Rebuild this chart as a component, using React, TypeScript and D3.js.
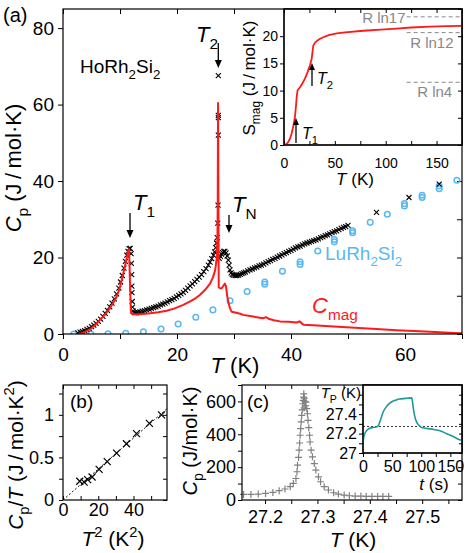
import React, { useEffect, useRef } from 'react';
import * as d3 from 'd3';

const FONT = '"Liberation Sans", Arial, Helvetica, sans-serif';
const RED = '#ff1a1a';
const BLUE = '#5ab9f0';
const TEAL = '#1e9a98';
const GREY = '#808080';

// (a) HoRh2Si2 specific heat
const hoT = [2.6, 3.0, 3.4, 3.8, 4.2, 4.6, 5.0, 5.4, 5.8, 6.2, 6.6, 7.0, 7.4, 7.8, 8.2, 8.6, 9.0, 9.4, 9.8,
  10.1, 10.4, 10.7, 10.95, 11.2, 11.4, 11.6, 11.8,
  11.95, 12.0, 12.05, 12.08, 12.1, 12.15, 12.2, 12.3, 12.5, 12.8,
  13.1, 13.5, 13.9, 14.3, 14.7, 15.1, 15.5, 15.9, 16.3, 16.7, 17.1, 17.5, 17.9, 18.3, 18.7, 19.1, 19.5, 19.9,
  20.3, 20.7, 21.1, 21.5, 21.9, 22.3, 22.7, 23.1, 23.5, 23.9, 24.3, 24.7, 25.1, 25.5,
  25.8, 26.1, 26.4, 26.6, 26.8, 26.95, 27.05, 27.15, 27.2,
  27.25, 27.25, 27.25, 27.25,
  27.4, 27.6, 27.8, 28.0, 28.2, 28.4, 28.6, 28.8, 29.0, 29.15, 29.3, 29.5, 29.7, 29.9, 30.2, 30.5, 30.8, 31.1, 31.4, 31.7,
  32.0, 32.4, 32.8, 33.2, 33.6, 34.0, 34.4, 34.8, 35.2, 35.6, 36.0, 36.4, 36.8, 37.2, 37.6, 38.0, 38.4, 38.8, 39.2, 39.6,
  40.0, 40.4, 40.8, 41.2, 41.6, 42.0, 42.4, 42.8, 43.2, 43.6, 44.0, 44.4, 44.8, 45.2, 45.6, 46.0, 46.4, 46.8, 47.2, 47.6,
  48.0, 48.4, 48.8, 49.2, 49.6, 50.0,
  55.0, 60.7, 66.0];
const hoCp = [0.3, 0.5, 0.7, 0.9, 1.2, 1.5, 1.9, 2.3, 2.8, 3.3, 3.9, 4.6, 5.4, 6.2, 7.1, 8.1, 9.2, 10.5, 12.0,
  13.6, 15.3, 17.2, 19.0, 20.6, 21.6, 22.3, 22.4,
  21.0, 18.5, 15.5, 12.5, 10.8, 8.5, 7.0, 6.0, 5.6, 5.6,
  5.7, 5.8, 6.0, 6.1, 6.3, 6.5, 6.7, 6.9, 7.1, 7.3, 7.6, 7.8, 8.1, 8.4, 8.7, 9.0, 9.3, 9.7,
  10.1, 10.5, 10.9, 11.4, 12.0, 12.6, 13.1, 13.7, 14.3, 14.9, 15.5, 16.3, 17.1, 18.0,
  18.8, 19.7, 20.6, 21.5, 22.6, 23.8, 25.2, 29.0, 33.7,
  52.0, 56.6, 57.2, 67.6,
  19.8, 20.3, 20.9, 21.3, 21.6, 21.6, 21.2, 20.4, 19.3, 18.0, 16.8, 16.0, 15.6, 15.4, 15.3, 15.3, 15.4, 15.6, 15.8, 16.0,
  16.2, 16.5, 16.8, 17.0, 17.3, 17.5, 17.8, 18.0, 18.3, 18.6, 18.9, 19.2, 19.5, 19.8, 20.1, 20.4, 20.7, 21.0, 21.3, 21.6,
  21.9, 22.2, 22.5, 22.8, 23.0, 23.3, 23.6, 23.8, 24.0, 24.2, 24.4, 24.6, 24.9, 25.2, 25.4, 25.7, 25.9, 26.2, 26.5, 26.8,
  27.0, 27.3, 27.6, 27.9, 28.1, 28.4,
  31.8, 35.7, 39.2];

// (a) LuRh2Si2 reference
const luT = [1.9, 4.9, 7.9, 11.0, 14.1, 17.2, 20.2, 23.3, 26.3, 29.3, 32.3, 35.4, 35.4, 38.5, 41.6, 41.6, 44.7,
  47.6, 47.6, 50.8, 50.8, 53.9, 56.9, 59.9, 59.9, 63.0, 63.0, 66.0, 66.0, 69.1];
const luCp = [0.0, 0.0, 0.05, 0.2, 0.6, 1.3, 2.6, 4.4, 6.3, 8.7, 11.1, 13.6, 13.0, 16.4, 18.9, 18.2, 21.7,
  24.7, 24.1, 27.0, 26.5, 29.2, 31.3, 34.1, 33.5, 36.3, 35.7, 38.7, 38.0, 40.2];

// (a) magnetic contribution
const cmagT = [2.7, 3.5, 4.7, 5.6, 6.5, 7.4, 8.2, 8.8, 9.4, 9.9, 10.3, 10.6, 10.9, 11.2, 11.46, 11.6, 11.75, 11.92,
  12.3, 13.0, 14.0, 15.3, 16.7, 18.2, 19.6, 21.1, 22.4, 23.3, 24.0, 24.9, 25.8, 26.3, 26.7, 27.0, 27.1, 27.15,
  27.2, 27.32, 27.5, 27.8, 28.1, 28.4, 28.6, 28.8, 29.0, 29.3, 29.6, 30.2, 31.1, 31.6, 32.8, 34.0, 35.1, 35.6,
  36.2, 37.0, 38.1, 39.5, 41.0, 41.5, 42.2, 43.9, 46.8, 49.0, 52.7, 55.0, 58.5, 61.5, 64.4, 67.0, 69.6, 70.0];
const cmagCp = [0.0, 0.3, 1.2, 2.3, 3.7, 5.1, 6.7, 8.1, 9.7, 11.8, 14.1, 16.0, 18.0, 20.0, 22.0, 22.2, 13.5, 5.6,
  5.2, 5.1, 5.2, 5.4, 5.7, 6.1, 6.7, 7.6, 8.6, 9.4, 10.2, 11.5, 13.2, 14.8, 16.7, 20.2, 26.0, 35.0,
  60.4, 12.3, 12.0, 11.9, 12.5, 13.2, 12.5, 10.0, 8.4, 6.7, 5.8, 5.6, 5.3, 5.0, 4.7, 4.4, 4.1, 4.4,
  3.9, 3.6, 3.3, 3.2, 3.0, 3.3, 2.4, 2.3, 2.0, 1.8, 1.5, 1.3, 1.0, 0.8, 0.6, 0.4, 0.2, 0.2];

// (a) inset: magnetic entropy
const smagT = [0, 2, 4.3, 6, 7.5, 9, 10.8, 11.8, 12.5, 13.4, 15.7, 18, 20.6, 23, 25.6, 27.2, 28.2, 28.8, 30.5, 32.1,
  35, 38.6, 44, 51.8, 60, 78, 95, 110.8, 125, 143.6, 160, 175];
const smagS = [0, 0.1, 0.6, 1.2, 2.1, 3.3, 5.2, 7.2, 8.9, 10.1, 10.6, 11.3, 12.2, 13.3, 14.7, 15.8, 17.4, 18.3, 18.8, 19.1,
  19.5, 19.8, 20.2, 20.5, 20.7, 21.0, 21.2, 21.4, 21.6, 21.75, 21.85, 21.9];
const entropyLabels = ['R ln17', 'R ln12', 'R ln4'];
const entropyLevels = [23.56, 20.66, 11.53];

// (b) low-temperature Cp/T vs T^2
const lowT2 = [9.5, 12.0, 14.0, 16.5, 20.5, 25.1, 30.4, 36.0, 41.7, 49.0, 55.9];
const lowCpT = [0.22, 0.21, 0.24, 0.27, 0.36, 0.45, 0.55, 0.66, 0.78, 0.90, 1.0];
const fitT2 = [0, 59];
const fitCpT = [0, 1.073];

// (c) peak at T2
const peakT = [27.159, 27.173, 27.187, 27.201, 27.215, 27.227, 27.238, 27.248, 27.254, 27.259,
  27.261, 27.262, 27.264, 27.265, 27.266, 27.267, 27.268, 27.269, 27.270, 27.271,
  27.272, 27.273, 27.2735, 27.274, 27.275, 27.276, 27.277, 27.2745, 27.278, 27.2796,
  27.281, 27.282, 27.2835, 27.285, 27.286, 27.288, 27.2905, 27.294, 27.297, 27.302,
  27.306, 27.313, 27.321, 27.331, 27.340, 27.351, 27.361, 27.372, 27.383, 27.393,
  27.404, 27.415, 27.425, 27.436];
const peakCp = [34, 34, 36, 40, 46, 57, 67, 81, 101, 131,
  172, 212, 259, 303, 347, 394, 434, 475, 515, 549,
  586, 606, 626, 646, 620, 600, 575, 560, 596, 556,
  525, 485, 440, 394, 353, 303, 263, 222, 182, 141,
  111, 81, 61, 44, 36, 30, 26, 24, 24, 22,
  22, 22, 22, 22];

// (c) inset: platform temperature during a heat pulse
const pulseTime = [0, 2, 5, 9, 15, 20, 24, 27, 30, 35, 40, 46, 52, 57.6, 63, 69, 76, 83.5, 85, 86,
  89, 92, 94, 97, 100, 107, 115, 123, 132, 138, 143, 149, 155, 161, 166, 170];
const pulseTp = [27.12, 27.18, 27.22, 27.246, 27.26, 27.265, 27.27, 27.29, 27.34, 27.427,
  27.475, 27.513, 27.535, 27.547, 27.555, 27.56, 27.563, 27.567, 27.53, 27.478,
  27.375, 27.32, 27.30, 27.28, 27.265, 27.255, 27.248, 27.24, 27.23, 27.215,
  27.2, 27.185, 27.17, 27.15, 27.136, 27.128];
const plateauTp = 27.273;

// tick labels and tick positions
const aXTicks = [0, 20, 40, 60];
const aYTicks = [0, 20, 40, 60, 80];
const aXMinor = [0, 10, 20, 30, 40, 50, 60, 70];
const aYMinor = [0, 10, 20, 30, 40, 50, 60, 70, 80];
const inXTicks = [0, 50, 100, 150];
const inYTicks = [0, 5, 10, 15, 20];
const inXMinor = [0, 25, 50, 75, 100, 125, 150, 175];
const inYMinor = [0, 5, 10, 15, 20, 25];
const bXTicks = [0, 20, 40];
const bYTicks = [0, 0.5, 1];
const bXMinor = [0, 10, 20, 30, 40, 50];
const bYMinor = [0, 0.25, 0.5, 0.75, 1, 1.25];
const cXTicks = [27.2, 27.3, 27.4, 27.5];
const cYTicks = [0, 200, 400, 600];
const cXMinor = [27.2, 27.25, 27.3, 27.35, 27.4, 27.45, 27.5, 27.55];
const cYMinor = [0, 100, 200, 300, 400, 500, 600, 700];
const ciXTicks = [0, 50, 100, 150];
const ciYTicks = [27, 27.2, 27.4];
const ciXMinor = [0, 25, 50, 75, 100, 125, 150];
const ciYMinor = [27, 27.1, 27.2, 27.3, 27.4, 27.5, 27.6];

const crossPath = (s: number) => `M${-s},${-s}L${s},${s}M${-s},${s}L${s},${-s}`;
const plusPath = (s: number) => `M${-s},0H${s}M0,${-s}V${s}`;

type Part = { t: string; i?: boolean; sub?: boolean; sup?: boolean };

function rich(parent: any, x: number, y: number, parts: Part[], fs: number, anchor = 'start', fill = '#000', rotate = false) {
  const txt = parent.append('text')
    .attr('font-family', FONT)
    .attr('font-size', fs)
    .attr('fill', fill)
    .attr('text-anchor', anchor);
  if (rotate) txt.attr('transform', `translate(${x},${y}) rotate(-90)`);
  else txt.attr('x', x).attr('y', y);
  let shift = 0;
  parts.forEach(p => {
    const target = p.sub ? fs * 0.3 : p.sup ? -fs * 0.42 : 0;
    const ts = txt.append('tspan').attr('dy', target - shift).text(p.t);
    shift = target;
    if (p.sub || p.sup) ts.attr('font-size', fs * 0.7);
    if (p.i) ts.attr('font-style', 'italic');
  });
  return txt;
}

function axis(parent: any, gen: any, tx: number, ty: number, fs: number) {
  const g = parent.append('g').attr('transform', `translate(${tx},${ty})`).call(gen);
  g.select('.domain').remove();
  g.attr('font-family', FONT).attr('font-size', fs);
  g.selectAll('line').attr('stroke', '#000').attr('stroke-width', 1);
  g.selectAll('text').attr('fill', '#000');
  return g;
}

function arrow(g: any, x: number, yTail: number, yTip: number, head = 8, w = 3.5) {
  const dir = Math.sign(yTip - yTail);
  g.append('line')
    .attr('x1', x).attr('x2', x)
    .attr('y1', yTail).attr('y2', yTip - dir * head)
    .attr('stroke', '#000').attr('stroke-width', 1.3);
  g.append('path')
    .attr('d', `M${x},${yTip}L${x - w},${yTip - dir * head}L${x + w},${yTip - dir * head}Z`)
    .attr('fill', '#000');
}

function box(g: any, x: any, y: any, fill = 'none') {
  const [x0, x1] = x.range();
  const [y0, y1] = y.range();
  return g.append('rect')
    .attr('x', x0).attr('y', y1)
    .attr('width', x1 - x0).attr('height', y0 - y1)
    .attr('fill', fill).attr('stroke', '#000').attr('stroke-width', 1.2);
}

const only = (vals: number[]) => (d: any) => (vals.some(v => Math.abs(v - +d) < 1e-9) ? String(+d) : '');
const none = () => '';

export default function App() {
  const ref = useRef<SVGSVGElement>(null);

  useEffect(() => {
    if (!ref.current) return;
    const svg = d3.select(ref.current);
    svg.selectAll('*').remove();
    svg.append('rect').attr('width', 469).attr('height', 553).attr('fill', '#fff');
    const defs = svg.append('defs');

    // ---------- (a) main ----------
    const xA = d3.scaleLinear().domain([0, 70]).range([63, 462]);
    const yA = d3.scaleLinear().domain([0, 85]).range([334, 9]);
    defs.append('clipPath').attr('id', 'clipA').append('rect')
      .attr('x', 63).attr('y', 9).attr('width', 399).attr('height', 325);

    axis(svg, d3.axisLeft(yA).tickValues(aYTicks).tickSize(5).tickPadding(4).tickFormat(only(aYTicks)), 63, 0, 19);
    axis(svg, d3.axisRight(yA).tickValues(aYMinor).tickSize(-5).tickFormat(none), 462, 0, 19);
    axis(svg, d3.axisBottom(xA).tickValues(aXMinor).tickSize(5).tickPadding(9).tickFormat(only(aXTicks)), 0, 334, 19);
    axis(svg, d3.axisTop(xA).tickValues(aXMinor).tickSize(-5).tickFormat(none), 0, 9, 19);

    const gA = svg.append('g').attr('clip-path', 'url(#clipA)');
    gA.selectAll('circle.lu').data(d3.zip(luT, luCp)).join('circle')
      .attr('cx', d => xA(d[0])).attr('cy', d => yA(d[1])).attr('r', 2.8)
      .attr('fill', 'none').attr('stroke', BLUE).attr('stroke-width', 1.5);
    gA.selectAll('path.ho').data(d3.zip(hoT, hoCp)).join('path')
      .attr('transform', d => `translate(${xA(d[0])},${yA(d[1])})`)
      .attr('d', crossPath(2.5)).attr('stroke', '#000').attr('stroke-width', 1.1).attr('fill', 'none');
    gA.append('path').datum(d3.zip(cmagT, cmagCp))
      .attr('d', d3.line<number[]>().x(d => xA(d[0])).y(d => yA(d[1])))
      .attr('fill', 'none').attr('stroke', RED).attr('stroke-width', 2).attr('stroke-linejoin', 'round');
    box(svg, xA, yA);

    rich(svg, 3, 22, [{ t: '(a)' }], 20);
    rich(svg, 80, 73, [{ t: 'HoRh' }, { t: '2', sub: true }, { t: 'Si' }, { t: '2', sub: true }], 19);
    rich(svg, 21, 168, [{ t: 'C', i: true }, { t: 'p', sub: true }, { t: ' (J\u2009/\u2009mol·K)' }], 22, 'middle', '#000', true);
    rich(svg, 235, 373, [{ t: 'T', i: true }, { t: ' (K)' }], 22, 'middle');
    rich(svg, 133, 210, [{ t: 'T', i: true }, { t: '1', sub: true }], 22);
    arrow(svg, 130, 213, 238);
    rich(svg, 196, 42, [{ t: 'T', i: true }, { t: '2', sub: true }], 22);
    arrow(svg, 218.3, 43, 68);
    rich(svg, 232, 212, [{ t: 'T', i: true }, { t: 'N', sub: true }], 22);
    arrow(svg, 229, 215, 233);
    rich(svg, 325, 260, [{ t: 'LuRh' }, { t: '2', sub: true }, { t: 'Si' }, { t: '2', sub: true }], 19, 'start', BLUE);
    rich(svg, 312, 313, [{ t: 'C', i: true }, { t: 'mag', sub: true }], 22, 'start', RED);

    // ---------- (a) inset ----------
    const xI = d3.scaleLinear().domain([0, 175]).range([284, 462]);
    const yI = d3.scaleLinear().domain([0, 25]).range([145, 9]);
    box(svg, xI, yI, '#fff');
    axis(svg, d3.axisLeft(yI).tickValues(inYTicks).tickSize(4).tickPadding(2).tickFormat(only(inYTicks)), 284, 0, 14);
    axis(svg, d3.axisRight(yI).tickValues(inYMinor).tickSize(-4).tickFormat(none), 462, 0, 14);
    axis(svg, d3.axisBottom(xI).tickValues(inXMinor).tickSize(-4).tickPadding(13).tickFormat(only(inXTicks)), 0, 145, 14);
    axis(svg, d3.axisTop(xI).tickValues(inXMinor).tickSize(-4).tickFormat(none), 0, 9, 14);

    entropyLevels.forEach((v, i) => {
      svg.append('line')
        .attr('x1', xI(120.6)).attr('x2', xI(175)).attr('y1', yI(v)).attr('y2', yI(v))
        .attr('stroke', '#888').attr('stroke-width', 1).attr('stroke-dasharray', '4,3');
      const lab = entropyLabels[i];
      if (i === 0) rich(svg, xI(119.5), yI(v) + 6, [{ t: lab }], 15, 'end', '#888');
      else rich(svg, xI(124) + (i === 2 ? 7 : 0), yI(v) + 15, [{ t: lab }], 15, 'start', '#888');
    });
    svg.append('path').datum(d3.zip(smagT, smagS))
      .attr('d', d3.line<number[]>().x(d => xI(d[0])).y(d => yI(d[1])))
      .attr('fill', 'none').attr('stroke', RED).attr('stroke-width', 1.8);
    box(svg, xI, yI);

    arrow(svg, 296, 143, 118, 7, 3);
    rich(svg, 302, 139, [{ t: 'T', i: true }, { t: '1', sub: true }], 16);
    arrow(svg, 312, 86, 63, 7, 3);
    rich(svg, 317, 84, [{ t: 'T', i: true }, { t: '2', sub: true }], 16);
    rich(svg, 255, 78, [{ t: 'S' }, { t: 'mag', sub: true }, { t: ' (J\u2009/\u2009mol·K)' }], 17, 'middle', '#000', true);
    rich(svg, 355, 185, [{ t: 'T', i: true }, { t: ' (K)' }], 17, 'middle');

    // ---------- (b) ----------
    const xB = d3.scaleLinear().domain([0, 59]).range([63, 167]);
    const yB = d3.scaleLinear().domain([0, 1.35]).range([500, 385]);
    axis(svg, d3.axisLeft(yB).tickValues(bYMinor).tickSize(4).tickPadding(5).tickFormat(only(bYTicks)), 63, 0, 18);
    axis(svg, d3.axisRight(yB).tickValues(bYMinor).tickSize(-4).tickFormat(none), 167, 0, 18);
    axis(svg, d3.axisBottom(xB).tickValues(bXMinor).tickSize(-4).tickPadding(3).tickFormat(only(bXTicks)), 0, 500, 18);
    axis(svg, d3.axisTop(xB).tickValues(bXMinor).tickSize(-4).tickFormat(none), 0, 385, 18);
    svg.append('path').datum(d3.zip(fitT2, fitCpT))
      .attr('d', d3.line<number[]>().x(d => xB(d[0])).y(d => yB(d[1])))
      .attr('fill', 'none').attr('stroke', '#000').attr('stroke-width', 0.9).attr('stroke-dasharray', '2,2');
    svg.selectAll('path.lowT').data(d3.zip(lowT2, lowCpT)).join('path')
      .attr('transform', d => `translate(${xB(d[0])},${yB(d[1])})`)
      .attr('d', crossPath(3.5)).attr('stroke', '#000').attr('stroke-width', 1.2).attr('fill', 'none');
    box(svg, xB, yB);
    rich(svg, 70, 408, [{ t: '(b)' }], 19);
    rich(svg, 23, 455, [{ t: 'C', i: true }, { t: 'p', sub: true }, { t: '/' }, { t: 'T', i: true }, { t: ' (J\u2009/\u2009mol·K' }, { t: '2', sup: true }, { t: ')' }], 21, 'middle', '#000', true);
    rich(svg, 113, 546, [{ t: 'T', i: true }, { t: '2', sup: true }, { t: ' (K' }, { t: '2', sup: true }, { t: ')' }], 21, 'middle');

    // ---------- (c) ----------
    const xC = d3.scaleLinear().domain([27.156, 27.576]).range([242, 462]);
    const yC = d3.scaleLinear().domain([0, 700]).range([500, 385]);
    axis(svg, d3.axisLeft(yC).tickValues(cYMinor).tickSize(4).tickPadding(2).tickFormat(only(cYTicks)), 242, 0, 18);
    axis(svg, d3.axisRight(yC).tickValues(cYMinor).tickSize(-4).tickFormat(none), 462, 0, 18);
    axis(svg, d3.axisBottom(xC).tickValues(cXMinor).tickSize(4).tickPadding(6).tickFormat(only(cXTicks)), 0, 500, 18);
    axis(svg, d3.axisTop(xC).tickValues(cXMinor).tickSize(-4).tickFormat(none), 0, 385, 18);
    svg.selectAll('path.peak').data(d3.zip(peakT, peakCp)).join('path')
      .attr('transform', d => `translate(${xC(d[0])},${yC(d[1])})`)
      .attr('d', plusPath(3.5)).attr('stroke', GREY).attr('stroke-width', 1.2).attr('fill', 'none');
    box(svg, xC, yC);
    rich(svg, 247, 408, [{ t: '(c)' }], 19);
    rich(svg, 197, 441, [{ t: 'C', i: true }, { t: 'p', sub: true }, { t: ' (J/mol·K)' }], 20, 'middle', '#000', true);
    rich(svg, 353, 547, [{ t: 'T', i: true }, { t: ' (K)' }], 21, 'middle');

    // ---------- (c) inset ----------
    const xP = d3.scaleLinear().domain([0, 170]).range([363, 462]);
    const yP = d3.scaleLinear().domain([27, 27.7]).range([453, 385]);
    box(svg, xP, yP, '#fff');
    axis(svg, d3.axisLeft(yP).tickValues(ciYMinor).tickSize(4).tickPadding(2).tickFormat(only(ciYTicks)), 363, 0, 16);
    axis(svg, d3.axisRight(yP).tickValues(ciYMinor).tickSize(-3).tickFormat(none), 462, 0, 16);
    axis(svg, d3.axisBottom(xP).tickValues(ciXMinor).tickSize(4).tickPadding(4).tickFormat(only(ciXTicks)), 0, 453, 16);
    svg.append('line')
      .attr('x1', xP(0)).attr('x2', xP(170)).attr('y1', yP(plateauTp)).attr('y2', yP(plateauTp))
      .attr('stroke', '#000').attr('stroke-width', 0.8).attr('stroke-dasharray', '2,2');
    svg.append('path').datum(d3.zip(pulseTime, pulseTp))
      .attr('d', d3.line<number[]>().x(d => xP(d[0])).y(d => yP(d[1])).curve(d3.curveMonotoneX))
      .attr('fill', 'none').attr('stroke', TEAL).attr('stroke-width', 1.6);
    box(svg, xP, yP);
    rich(svg, 361, 398, [{ t: 'T', i: true }, { t: 'P', sub: true }, { t: ' (K)' }], 15, 'end');
    rich(svg, 434, 490, [{ t: 't', i: true }, { t: ' (s)' }], 17, 'middle');
  }, []);

  return <svg ref={ref} width={469} height={553} style={{ position: 'absolute', left: 0, top: 0 }} />;
}
